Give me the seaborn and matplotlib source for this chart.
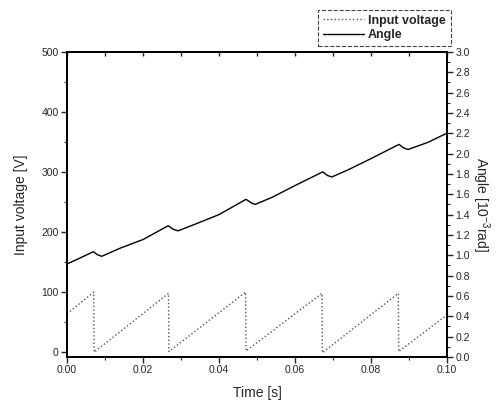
import numpy as np
import pandas as pd
import matplotlib
matplotlib.use("Agg")
import matplotlib.pyplot as plt
from matplotlib.ticker import MultipleLocator, FormatStrFormatter
import seaborn as sns

# input voltage sawtooth (vertices), V
volt_t = [0.0, 0.0070, 0.0071, 0.0267, 0.0268, 0.0470, 0.0471, 0.0671, 0.0672, 0.0872, 0.0873, 0.1000]
volt_v = [64, 100, 0, 98, 1, 100, 2, 98, -1, 98, 1, 62]

# rotor angle, 10^-3 rad
angle_t = [0.0, 0.0035, 0.0069, 0.0080, 0.0091, 0.0140, 0.0200, 0.0266, 0.0280, 0.0292,
           0.0340, 0.0400, 0.0471, 0.0485, 0.0495, 0.0540, 0.0600, 0.0673, 0.0685, 0.0697,
           0.0740, 0.0800, 0.0874, 0.0886, 0.0898, 0.0950, 0.1000]
angle_v = [0.915, 0.975, 1.035, 1.005, 0.99, 1.07, 1.155, 1.29, 1.255, 1.24,
           1.31, 1.40, 1.55, 1.515, 1.50, 1.57, 1.685, 1.82, 1.785, 1.77,
           1.84, 1.95, 2.09, 2.055, 2.04, 2.11, 2.20]

sns.set_theme(style="ticks")
plt.rcParams['font.family'] = ['Liberation Sans', 'DejaVu Sans']
plt.rcParams['mathtext.fontset'] = 'custom'
plt.rcParams['mathtext.rm'] = 'Liberation Sans'
plt.rcParams['mathtext.it'] = 'Liberation Sans:italic'

fig = plt.figure(figsize=(5.01, 4.08), dpi=100)
ax = fig.add_axes([0.134, 0.125, 0.758, 0.748])
ax2 = ax.twinx()

sns.lineplot(x=volt_t, y=volt_v, ax=ax, color='#555555', linestyle=':', linewidth=1.0,
             label='Input voltage', legend=False)
sns.lineplot(x=angle_t, y=angle_v, ax=ax2, color='black', linewidth=1.0,
             label='Angle', legend=False)

ax.set_xlim(0, 0.1)
ax.set_ylim(-8, 500)
ax2.set_ylim(0, 3.0)

ax.xaxis.set_major_locator(MultipleLocator(0.02))
ax.xaxis.set_minor_locator(MultipleLocator(0.01))
ax.xaxis.set_major_formatter(FormatStrFormatter('%.2f'))
ax.yaxis.set_major_locator(MultipleLocator(100))
ax.yaxis.set_minor_locator(MultipleLocator(50))
ax2.yaxis.set_major_locator(MultipleLocator(0.2))
ax2.yaxis.set_minor_locator(MultipleLocator(0.1))
ax2.yaxis.set_major_formatter(FormatStrFormatter('%.1f'))

for a in (ax, ax2):
    a.tick_params(which='major', direction='out', length=4, width=1, labelsize=7.5, pad=2)
    a.tick_params(which='minor', direction='out', length=2, width=0.8)
    for s in a.spines.values():
        s.set_linewidth(1.3)
        s.set_color('black')

top = ax.secondary_xaxis('top')
top.xaxis.set_major_locator(MultipleLocator(0.01))
top.tick_params(direction='in', length=3, width=1, labeltop=False)

ax.set_xlabel('Time [s]', fontsize=10, labelpad=8)
ax.set_ylabel('Input voltage [V]', fontsize=10, labelpad=10)
ax2.set_ylabel('Angle [$10^{-3}$rad]', fontsize=10, rotation=270, labelpad=16)

h1, l1 = ax.get_legend_handles_labels()
h2, l2 = ax2.get_legend_handles_labels()
leg = fig.legend(h1 + h2, l1 + l2, loc='upper right', bbox_to_anchor=(0.912, 0.992),
                 fancybox=False, framealpha=1, edgecolor='#444444',
                 handlelength=3.3, borderpad=0.4, labelspacing=0.2, handletextpad=0.3,
                 prop={'weight': 'bold', 'size': 9})
leg.get_frame().set_linestyle('--')
leg.get_frame().set_linewidth(0.8)

fig.savefig('out.png', dpi=100)
